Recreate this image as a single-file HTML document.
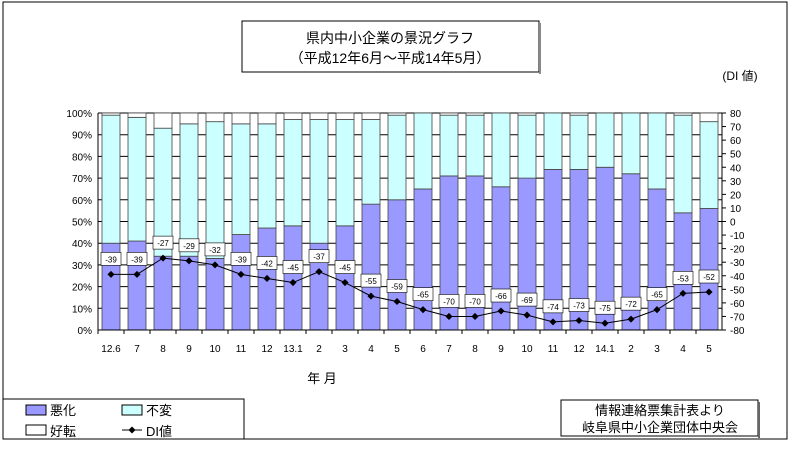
<!DOCTYPE html>
<html><head><meta charset="utf-8"><style>
body{margin:0;background:#fff;}
svg text{font-family:"Liberation Sans","Noto Sans CJK JP",sans-serif;}
</style></head><body>
<svg width="796" height="444" viewBox="0 0 796 444" xmlns="http://www.w3.org/2000/svg" id="chart">
<rect x="3" y="2" width="784" height="437" fill="#fff" stroke="#000"/>
<g>
<rect x="242" y="21" width="297" height="51" fill="#fff" stroke="#000"/>
<rect x="539" y="23" width="2" height="51" fill="#888"/>
<text x="390" y="43" font-size="14" text-anchor="middle">県内中小企業の景況グラフ</text>
<text x="390" y="63" font-size="14" text-anchor="middle">（平成12年6月～平成14年5月）</text>
</g>
<text x="740" y="80" font-size="12" text-anchor="middle">(DI 値)</text>
<g id="plot"></g>
<text x="322" y="383" font-size="13" text-anchor="middle">年 月</text>
<g>
<rect x="3" y="399" width="241" height="40" fill="#fff" stroke="#000"/>
<rect x="26" y="405" width="20" height="10" fill="#9999ff" stroke="#000"/>
<text x="50" y="415" font-size="13">悪化</text>
<rect x="122" y="405" width="20" height="10" fill="#ccffff" stroke="#000"/>
<text x="146" y="415" font-size="13">不変</text>
<rect x="26" y="425" width="20" height="10" fill="#fff" stroke="#000"/>
<text x="50" y="436" font-size="13">好転</text>
<line x1="122" y1="430" x2="142" y2="430" stroke="#000"/>
<rect x="129.5" y="427.5" width="5" height="5" transform="rotate(45 132 430)" fill="#000"/>
<text x="146" y="436" font-size="13">DI値</text>
</g>
<g>
<rect x="561" y="400" width="197" height="36" fill="#fff" stroke="#000"/>
<rect x="758" y="402" width="2" height="36" fill="#666"/>
<text x="660" y="415" font-size="13" text-anchor="middle">情報連絡票集計表より</text>
<text x="660" y="432" font-size="13" text-anchor="middle">岐阜県中小企業団体中央会</text>
</g>
</svg>
<script>
const categories=["12.6","7","8","9","10","11","12","13.1","2","3","4","5","6","7","8","9","10","11","12","14.1","2","3","4","5"];
const worse=[40,41,34,34,33,44,47,48,40,48,58,60,65,71,71,66,70,74,74,75,72,65,54,56];
const better=[1,2,7,5,4,5,5,3,3,3,3,1,0,1,1,0,1,0,1,0,0,0,1,4];
const diValues=[-39,-39,-27,-29,-32,-39,-42,-45,-37,-45,-55,-59,-65,-70,-70,-66,-69,-74,-73,-75,-72,-65,-53,-52];
const leftTicks=[0,10,20,30,40,50,60,70,80,90,100];
const rightTicks=[-80,-70,-60,-50,-40,-30,-20,-10,0,10,20,30,40,50,60,70,80];

const NS="http://www.w3.org/2000/svg";
const X0=98,X1=722,Y0=330,Y1=113;
const band=(X1-X0)/categories.length, bw=18;
const yPct=v=>Y0-(v/100)*(Y0-Y1);
const yDI=v=>Y0-((v+80)/160)*(Y0-Y1);
const xC=i=>X0+band*i+band/2;
const g=document.getElementById('plot');
function mk(tag,at){const e=document.createElementNS(NS,tag);for(const k in at)e.setAttribute(k,at[k]);g.appendChild(e);return e;}

// gridlines
leftTicks.forEach(t=>{
  const l=mk('line',{x1:X0,x2:X1,y1:yPct(t),y2:yPct(t),stroke:'#000','stroke-width':1});
  
  
  const tx=mk('text',{x:X0-6,y:yPct(t)+4,'font-size':10,'text-anchor':'end'});
  tx.textContent=t+'%';
  
  
});
rightTicks.forEach(t=>{
  const l=mk('line',{x1:X1,x2:X1+4,y1:yDI(t),y2:yDI(t),stroke:'#000'});
  
  
  const tx=mk('text',{x:X1+8,y:yDI(t)+4,'font-size':10});
  tx.textContent=t;
  
  
});
// bars
categories.forEach((c,i)=>{
  const x=xC(i)-bw/2;
  const w=worse[i], s=100-worse[i]-better[i];
  const r1=mk('rect',{x:x,y:yPct(w),width:bw,height:yPct(0)-yPct(w),fill:'#9999ff',stroke:'#444','stroke-width':0.8});
  
  
  const r2=mk('rect',{x:x,y:yPct(w+s),width:bw,height:yPct(w)-yPct(w+s),fill:'#ccffff',stroke:'#444','stroke-width':0.8});
  
  
  const r3=mk('rect',{x:x,y:yPct(100),width:bw,height:yPct(w+s)-yPct(100),fill:'#fff',stroke:'#444','stroke-width':0.8});
  
  
  const tx=mk('text',{x:xC(i),y:352,'font-size':10,'text-anchor':'middle'});
  tx.textContent=c;
  
  
  const tk=mk('line',{x1:X0+band*i,x2:X0+band*i,y1:Y0,y2:Y0+4,stroke:'#000'});
  
  
});
// axes
const ax1=mk('line',{x1:X0,x2:X0,y1:Y1,y2:Y0,stroke:'#000'});


const ax2=mk('line',{x1:X1,x2:X1,y1:Y1,y2:Y0,stroke:'#000'});


const ax3=mk('line',{x1:X0,x2:X1,y1:Y0,y2:Y0,stroke:'#000'});


// DI line
const pl=mk('polyline',{points:diValues.map((v,i)=>xC(i)+','+yDI(v)).join(' '),fill:'none',stroke:'#000','stroke-width':1});


diValues.forEach((v,i)=>{
  const x=xC(i),y=yDI(v);
  const m=mk('rect',{x:x-2.5,y:y-2.5,width:5,height:5,fill:'#000',transform:`rotate(45 ${x} ${y})`});
  
  
  const b=mk('rect',{x:x-10,y:y-22,width:20,height:13,fill:'#fff',stroke:'#000','stroke-width':0.6});
  
  
  const t=mk('text',{x:x,y:y-12,'font-size':8,'text-anchor':'middle'});
  t.textContent=v;
  
  
});
</script>
</body></html>
